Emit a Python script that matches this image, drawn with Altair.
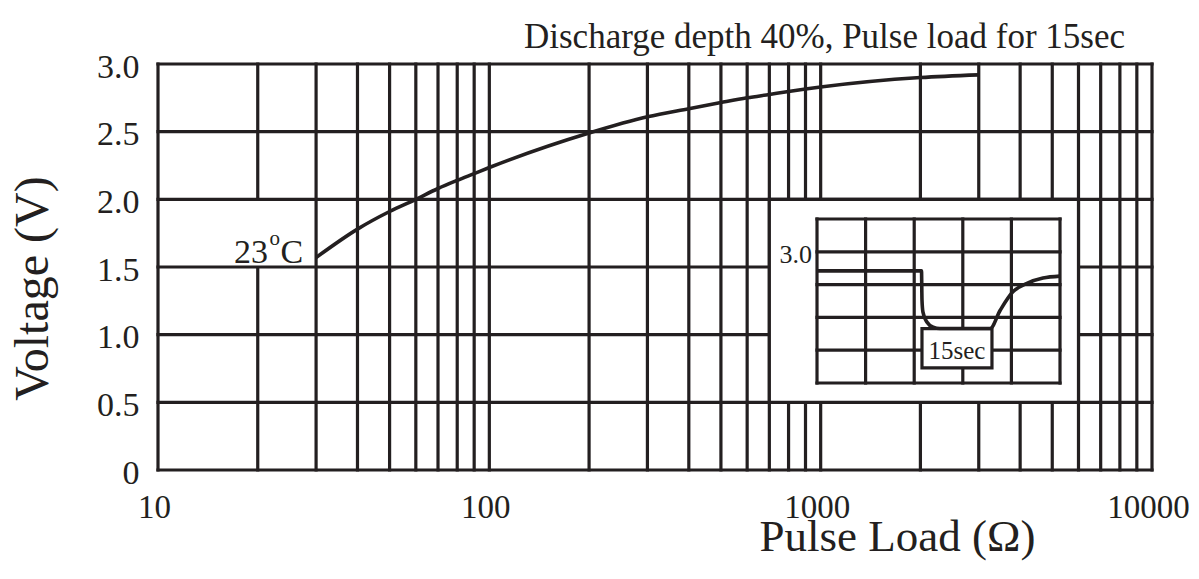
import altair as alt
import pandas as pd

# ---------------- data ----------------
# main curve, 23 degC
load_ohm = [30, 40, 50, 60, 70, 80, 90, 100, 200, 300, 400, 500, 600, 700, 800, 900, 1000, 2000, 3000]
voltage_v = [1.57, 1.78, 1.91, 2.0, 2.08, 2.14, 2.19, 2.235, 2.49, 2.61, 2.67, 2.715, 2.75, 2.775,
             2.797, 2.815, 2.83, 2.90, 2.92]

x_tick_labels = [10, 100, 1000, 10000]
y_ticks = [0, 0.5, 1.0, 1.5, 2.0, 2.5, 3.0]
x_grid = [m * 10 ** e for e in (1, 2, 3) for m in range(1, 10)] + [10000]

chart_title = "Discharge depth 40%, Pulse load for 15sec"

# inset: schematic pulse (time in s, voltage in V)
inset_time_s = [0, 21.5, 21.6, 21.8, 22.6, 23.9, 25.3, 35.6, 37.7, 40.3, 43.2, 46.5, 50]
inset_volt = [2.71, 2.71, 2.27, 2.08, 1.93, 1.85, 1.83, 1.83, 2.11, 2.39, 2.52, 2.60, 2.63]
inset_t_grid = [0, 10, 20, 30, 40, 50]
inset_v_grid = [1.0, 1.5, 2.0, 2.5, 3.0, 3.5]
pulse_start, pulse_end = 21.6, 36.0
bracket_low = 1.23

INK = "#231f20"
FONT = "Liberation Serif"
GW = 3.2

# ---------------- main layers ----------------
xs = alt.Scale(type="log", domain=[10, 10000], nice=False)
ys = alt.Scale(domain=[0, 3.0], nice=False, zero=False)

vgrid = alt.Chart(pd.DataFrame({"x": x_grid})).mark_rule(
    color=INK, strokeWidth=GW, strokeCap="square"
).encode(
    x=alt.X("x:Q", scale=xs, axis=alt.Axis(
        values=x_tick_labels, format="d", title="Pulse Load (Ω)",
        grid=False, ticks=False, domain=False, labelFlush=False,
        labelFont=FONT, labelFontSize=33, labelColor=INK,
        labelBaseline="alphabetic", labelPadding=47, labelOffset=-4,
        titleFont=FONT, titleFontSize=45, titleFontWeight="normal", titleColor=INK,
        titleX=739, titleY=80, titleAlign="center", titleBaseline="alphabetic",
    ))
)

label_bg = alt.Chart(pd.DataFrame({"x": [13], "x2": [29], "y": [1.5], "y2": [2.0]})).mark_rect(
    color="white"
).encode(
    x=alt.X("x:Q", scale=xs), x2="x2:Q",
    y=alt.Y("y:Q", scale=ys, axis=alt.Axis(
        values=y_ticks, title="Voltage (V)",
        labelExpr="datum.value == 0 ? '0' : format(datum.value, '.1f')",
        grid=False, ticks=False, domain=False, labelFlush=False,
        labelFont=FONT, labelFontSize=34, labelColor=INK,
        labelBaseline="alphabetic", labelPadding=19, labelOffset=13,
        titleFont=FONT, titleFontSize=48, titleFontWeight="normal", titleColor=INK,
        titleX=-111, titleY=224, titleAngle=-90, titleAlign="center", titleBaseline="alphabetic",
    )),
    y2="y2:Q",
)

hgrid = alt.Chart(pd.DataFrame({"y": y_ticks})).mark_rule(
    color=INK, strokeWidth=GW, strokeCap="square"
).encode(y=alt.Y("y:Q", scale=ys))

curve = alt.Chart(pd.DataFrame({"x": load_ohm, "y": voltage_v})).mark_line(
    color=INK, strokeWidth=3.6, interpolate="monotone"
).encode(x=alt.X("x:Q", scale=xs), y=alt.Y("y:Q", scale=ys))

lab_df = pd.DataFrame({"x": [load_ohm[0]], "y": [voltage_v[0]]})
lab_23 = alt.Chart(lab_df).mark_text(
    text="23", font=FONT, fontSize=34, color=INK, align="right", baseline="alphabetic", dx=-48, dy=5.5
).encode(x=alt.X("x:Q", scale=xs), y=alt.Y("y:Q", scale=ys))
lab_o = alt.Chart(lab_df).mark_text(
    text="o", font=FONT, fontSize=21, color=INK, align="left", baseline="alphabetic", dx=-46.5, dy=-13
).encode(x=alt.X("x:Q", scale=xs), y=alt.Y("y:Q", scale=ys))
lab_c = alt.Chart(lab_df).mark_text(
    text="C", font=FONT, fontSize=34, color=INK, align="right", baseline="alphabetic", dx=-13, dy=5.5
).encode(x=alt.X("x:Q", scale=xs), y=alt.Y("y:Q", scale=ys))

title_txt = alt.Chart(pd.DataFrame({"x": [max(x_grid)], "y": [max(y_ticks)], "s": [chart_title]})).mark_text(
    font=FONT, fontSize=35, color=INK, align="right", baseline="alphabetic", dx=-27, dy=-16
).encode(x=alt.X("x:Q", scale=xs), y=alt.Y("y:Q", scale=ys), text="s:N")

inset_box = alt.Chart(pd.DataFrame({"x": [700], "x2": [6000], "y": [0.5], "y2": [2.0]})).mark_rect(
    fill="white", stroke=INK, strokeWidth=GW
).encode(x=alt.X("x:Q", scale=xs), x2="x2:Q", y=alt.Y("y:Q", scale=ys), y2="y2:Q")

main = alt.layer(vgrid, label_bg, hgrid, curve, lab_23, lab_o, lab_c, title_txt, inset_box)

# ---------------- inset layers ----------------
ts = alt.Scale(domain=[-135.6, 68.93], nice=False, zero=False)
vs = alt.Scale(domain=[-0.326, 5.863], nice=False, zero=False)

iv = alt.Chart(pd.DataFrame({"t": inset_t_grid, "v0": min(inset_v_grid), "v1": max(inset_v_grid)})).mark_rule(
    color=INK, strokeWidth=GW, strokeCap="square"
).encode(
    x=alt.X("t:Q", scale=ts, axis=None),
    y=alt.Y("v0:Q", scale=vs, axis=None), y2="v1:Q",
)
ih = alt.Chart(pd.DataFrame({"v": inset_v_grid, "t0": min(inset_t_grid), "t1": max(inset_t_grid)})).mark_rule(
    color=INK, strokeWidth=GW, strokeCap="square"
).encode(
    x=alt.X("t0:Q", scale=ts, axis=None), x2="t1:Q",
    y=alt.Y("v:Q", scale=vs, axis=None),
)
bracket = alt.Chart(pd.DataFrame({"t0": [pulse_start], "t1": [pulse_end],
                                  "v0": [bracket_low], "v1": [min(inset_volt)]})).mark_rect(
    fill="white", stroke=INK, strokeWidth=GW
).encode(
    x=alt.X("t0:Q", scale=ts, axis=None), x2="t1:Q",
    y=alt.Y("v0:Q", scale=vs, axis=None), y2="v1:Q",
)
icurve = alt.Chart(pd.DataFrame({"t": inset_time_s, "v": inset_volt})).mark_line(
    color=INK, strokeWidth=3.6, interpolate="monotone"
).encode(x=alt.X("t:Q", scale=ts, axis=None), y=alt.Y("v:Q", scale=vs, axis=None))

i30 = alt.Chart(pd.DataFrame({"t": [0], "v": [3.0], "s": ["3.0"]})).mark_text(
    font=FONT, fontSize=26, color=INK, align="right", baseline="alphabetic", dx=-5, dy=11
).encode(x=alt.X("t:Q", scale=ts, axis=None), y=alt.Y("v:Q", scale=vs, axis=None), text="s:N")

isec = alt.Chart(pd.DataFrame({"t": [(pulse_start + pulse_end) / 2], "v": [bracket_low], "s": ["15sec"]})).mark_text(
    font=FONT, fontSize=25, color=INK, align="center", baseline="alphabetic", dy=-9
).encode(x=alt.X("t:Q", scale=ts, axis=None), y=alt.Y("v:Q", scale=vs, axis=None), text="s:N")

inset = alt.layer(iv, ih, bracket, icurve, i30, isec)

chart = alt.layer(main, inset).resolve_scale(x="independent", y="independent").properties(
    width=994, height=406,
    autosize=alt.AutoSizeParams(type="none"),
    padding={"left": 150, "top": 56, "right": 38, "bottom": 100},
    background="white",
).configure_view(stroke=None)

chart.save("out.html", embed_options={"renderer": "svg", "actions": False})
